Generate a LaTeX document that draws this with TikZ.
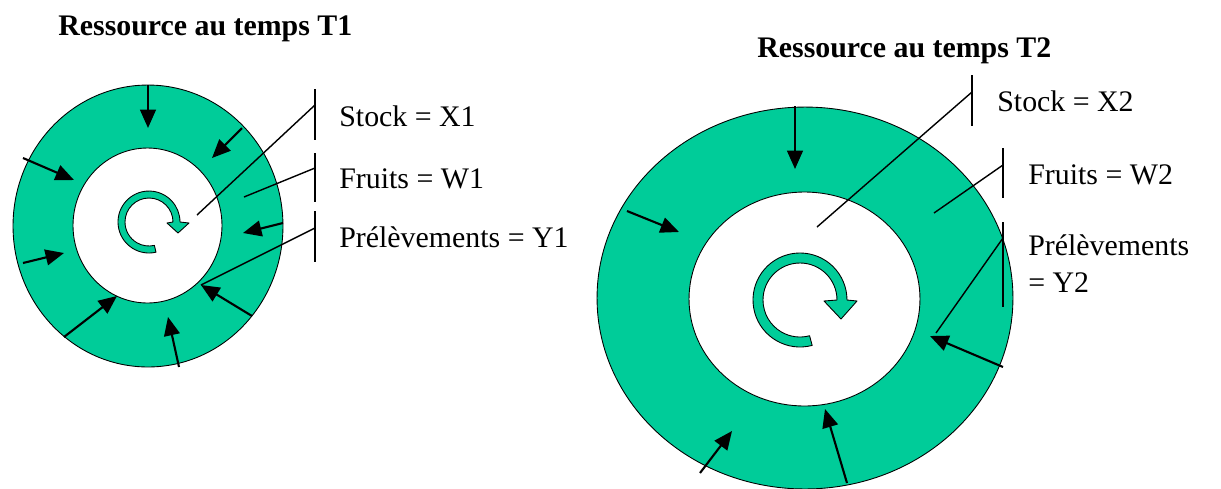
\documentclass[tikz,border=0pt]{standalone}
\usepackage{fontspec}
\setmainfont{Liberation Serif}
\usetikzlibrary{arrows.meta,shapes.geometric}
\definecolor{ringfill}{HTML}{00CC99}
\begin{document}
\begin{tikzpicture}[x=0.02cm,y=-0.02cm,
  ring/.style={ellipse, draw=black, line width=0.5pt, inner sep=0pt, outer sep=0pt},
  outerring/.style={ring, fill=ringfill},
  innerring/.style={ring, fill=white},
  curl/.style={fill=ringfill, draw=black, line width=0.5pt, line join=round},
  flow/.style={line width=1.2pt, -{Triangle[length=10.5pt,width=9pt]}},
  leader/.style={line width=0.8pt},
  bracket/.style={line width=0.9pt},
  lbl/.style={font=\fontsize{17}{20.5}\selectfont, anchor=base west, inner sep=0pt},
  heading/.style={font=\fontsize{17}{20.5}\selectfont\bfseries, anchor=base west, inner sep=0pt}
]
\useasboundingbox (0,0) rectangle (1221,488);

% ---------------- resource at time T1 ----------------
\node[heading] (titleA) at (58,35) {Ressource au temps T1};
\node[outerring, minimum width=5.4cm, minimum height=5.64cm] (outerA) at (148,226) {};
\node[innerring, minimum width=2.98cm, minimum height=3.1cm] (innerA) at (147.5,225.5) {};

% renewal loop in the stock
\path[curl] (149,222) ++(77:31) arc[start angle=77, end angle=360, radius=31]
  -- (189,223) -- (178,233) -- (167,223) -- (173,222)
  arc[start angle=360, end angle=77, radius=24] -- cycle;

% incoming flows
\foreach \sx/\sy/\tx/\ty [count=\i] in
  {148/85/148/128, 242/128/212/158, 23/158/74/180, 23/263/64/253,
   64/337/117/296, 179/367/168/317, 252/316/201/285, 283/223/243/233}{
  \coordinate (fa\i s) at (\sx,\sy);
  \coordinate (fa\i t) at (\tx,\ty);
  \draw[flow] (fa\i s) -- (fa\i t);
}

% label brackets and leaders
\coordinate (ba1t) at (315,89);  \coordinate (ba1b) at (315,140);
\coordinate (ba2t) at (315,153); \coordinate (ba2b) at (315,202);
\coordinate (ba3t) at (315,211); \coordinate (ba3b) at (315,262);
\draw[bracket] (ba1t) -- (ba1b);
\draw[bracket] (ba2t) -- (ba2b);
\draw[bracket] (ba3t) -- (ba3b);
\coordinate (la1) at (315,105); \coordinate (pa1) at (197,215);
\coordinate (la2) at (315,168); \coordinate (pa2) at (244,197);
\coordinate (la3) at (315,228);
\draw[leader] (la1) -- (pa1);
\draw[leader] (la2) -- (pa2);
\draw[leader] (la3) -- (fa7t);

\node[lbl] (stockA) at (339,126) {Stock = X1};
\node[lbl] (fruitA) at (339,188) {Fruits = W1};
\node[lbl] (prelA)  at (339,247) {Prélèvements = Y1};

% ---------------- resource at time T2 ----------------
\node[heading] (titleB) at (757,57) {Ressource au temps T2};
\node[outerring, minimum width=8.32cm, minimum height=7.64cm] (outerB) at (805,298) {};
\node[innerring, minimum width=4.62cm, minimum height=4.28cm] (innerB) at (804.5,299) {};

% renewal loop in the stock
\path[curl] (800,300) ++(75:47) arc[start angle=75, end angle=360, radius=47]
  -- (857,301) -- (841,319) -- (824,301) -- (837,300)
  arc[start angle=360, end angle=75, radius=37] -- cycle;

% incoming flows
\foreach \sx/\sy/\tx/\ty [count=\i] in
  {795/106/795/169, 627/211/679/232, 700/473/732/431,
   847/483/825/409, 1003/367/930/336}{
  \coordinate (fb\i s) at (\sx,\sy);
  \coordinate (fb\i t) at (\tx,\ty);
  \draw[flow] (fb\i s) -- (fb\i t);
}

% label brackets and leaders
\coordinate (bb1t) at (972,75);   \coordinate (bb1b) at (972,126);
\coordinate (bb2t) at (1003,148); \coordinate (bb2b) at (1003,198);
\coordinate (bb3t) at (1003,222); \coordinate (bb3b) at (1003,307);
\draw[bracket] (bb1t) -- (bb1b);
\draw[bracket] (bb2t) -- (bb2b);
\draw[bracket] (bb3t) -- (bb3b);
\coordinate (lb1) at (972,92);   \coordinate (pb1) at (817,227);
\coordinate (lb2) at (1003,165); \coordinate (pb2) at (934,213);
\coordinate (lb3) at (1003,238); \coordinate (pb3) at (936,333);
\draw[leader] (lb1) -- (pb1);
\draw[leader] (lb2) -- (pb2);
\draw[leader] (lb3) -- (pb3);

\node[lbl] (stockB) at (997,111) {Stock = X2};
\node[lbl] (fruitB) at (1028,184) {Fruits = W2};
% two-line label: the base anchor sits on its last line
\node[lbl, align=left] (prelB) at (1028,292) {Prélèvements\\= Y2};
\end{tikzpicture}
\end{document}
